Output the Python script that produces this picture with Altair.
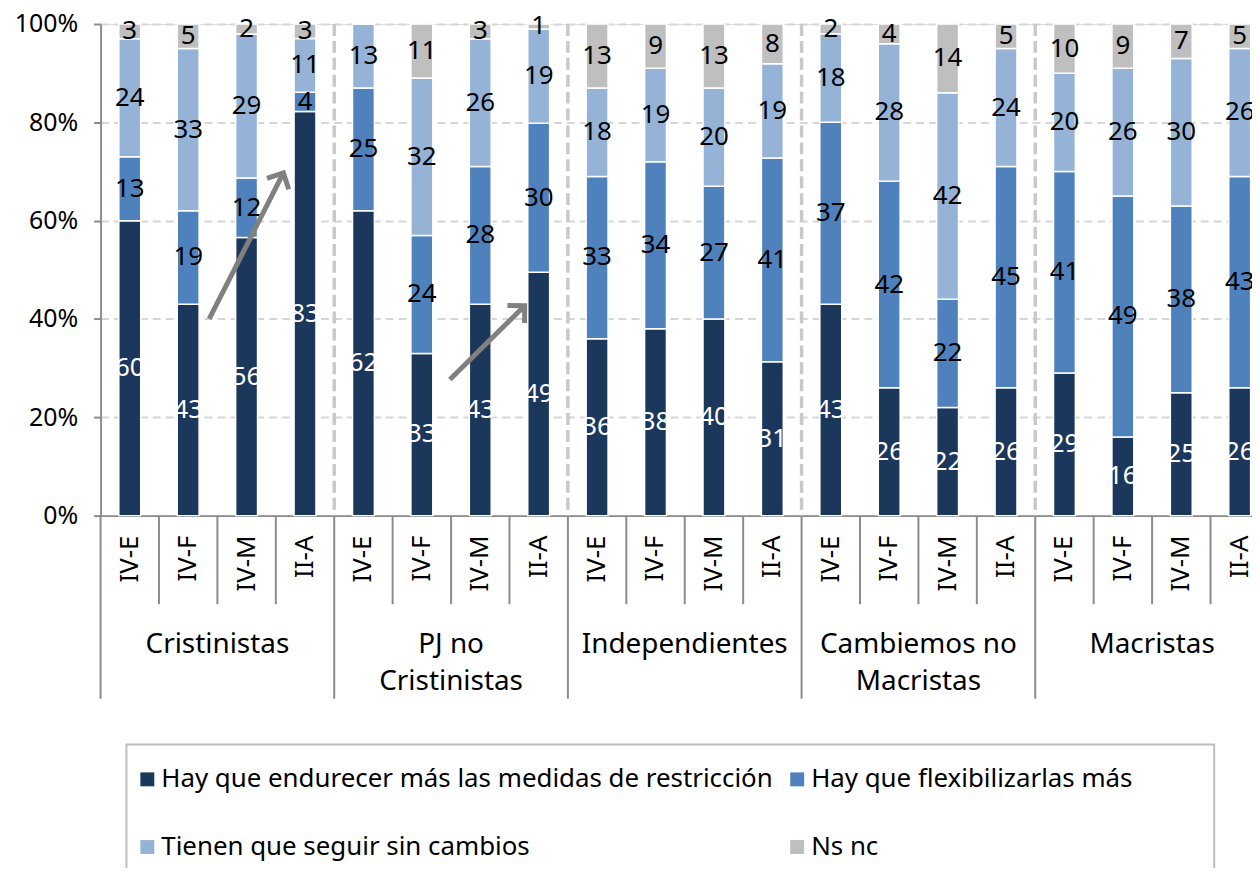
import math
import altair as alt
import pandas as pd

# ---------------- data ----------------
groups = ["Cristinistas", "PJ no\nCristinistas", "Independientes",
          "Cambiemos no\nMacristas", "Macristas"]
waves = ["IV-E", "IV-F", "IV-M", "II-A"]
series = ["Hay que endurecer más las medidas de restricción",
          "Hay que flexibilizarlas más",
          "Tienen que seguir sin cambios",
          "Ns nc"]
colors = ["#1B375C", "#4F81BD", "#95B3D7", "#BFBFBF"]

endurecer    = [60, 43, 56, 83, 62, 33, 43, 49, 36, 38, 40, 31, 43, 26, 22, 26, 29, 16, 25, 26]
flexibilizar = [13, 19, 12, 4, 25, 24, 28, 30, 33, 34, 27, 41, 37, 42, 22, 45, 41, 49, 38, 43]
sin_cambios  = [24, 33, 29, 11, 13, 32, 26, 19, 18, 19, 20, 19, 18, 28, 42, 24, 20, 26, 30, 26]
ns_nc        = [3, 5, 2, 3, 0, 11, 3, 1, 13, 9, 13, 8, 2, 4, 14, 5, 10, 9, 7, 5]

# annotation arrows (tail -> tip) in data units (bar index, share)
arrow_tail_x = [1.86, 5.98]
arrow_tail_y = [0.40, 0.277]
arrow_tip_x = [3.13, 7.26]
arrow_tip_y = [0.697, 0.427]

# ---------------- layout / style ----------------
W, H = 1157, 494
UNIT = 58.7                      # px per bar slot
XMAX = W / UNIT
FONT = "Noto Sans"
FS_AXIS = 25
FS_VAL = 26
FS_CAT = 26
FS_GRP = 28
FS_LEG = 26
AXIS_GREY = "#8C8C8C"

arrays = [endurecer, flexibilizar, sin_cambios, ns_nc]
rows = []
for gi, g in enumerate(groups):
    for wi, w in enumerate(waves):
        idx = gi * 4 + wi
        for si, s in enumerate(series):
            rows.append(dict(idx=idx, center=idx + 0.5, group=g, wave=w,
                             serie=s, order=si, value=arrays[si][idx]))
df = pd.DataFrame(rows)

cats = pd.DataFrame([dict(center=gi * 4 + wi + 0.5, wave=w)
                     for gi in range(len(groups)) for wi, w in enumerate(waves)])
bounds = pd.DataFrame([dict(b=b, kind="group" if b % 4 == 0 else "cat")
                       for b in range(0, 4 * len(groups) + 1)])
grp = pd.DataFrame([dict(center=gi * 4 + 2, label=g) for gi, g in enumerate(groups)])

arrow_rows, head_rows = [], []
for i in range(len(arrow_tail_x)):
    arrow_rows.append(dict(a=i, s=0, ax=arrow_tail_x[i], ay=arrow_tail_y[i]))
    arrow_rows.append(dict(a=i, s=1, ax=arrow_tip_x[i], ay=arrow_tip_y[i]))
    dx = (arrow_tip_x[i] - arrow_tail_x[i]) * UNIT
    dy = (arrow_tip_y[i] - arrow_tail_y[i]) * H
    ang = math.degrees(math.atan2(dx, dy)) % 360
    head_rows.append(dict(ax=arrow_tip_x[i], ay=arrow_tip_y[i], ang=ang))
arrows = pd.DataFrame(arrow_rows)
heads = pd.DataFrame(head_rows)

xs = alt.Scale(domain=[0, XMAX], nice=False, zero=False, padding=0)
ys = alt.Scale(domain=[0, 1], nice=False, padding=0)

# legend is laid out column by column: order the entries so rows read as in the source
legend_order = [series[0], series[2], series[1], series[3]]
legend_colors = [colors[0], colors[2], colors[1], colors[3]]

# ---------------- layers ----------------
base = (alt.Chart(df)
        .transform_joinaggregate(total="sum(value)", groupby=["idx"])
        .transform_window(cum="sum(value)", groupby=["idx"],
                          sort=[alt.SortField("order")], frame=[None, 0])
        .transform_calculate(y0="(datum.cum - datum.value) / datum.total",
                             y1="datum.cum / datum.total",
                             mid="(datum.cum - datum.value / 2) / datum.total"))

bars = base.mark_bar(width=22, stroke="white", strokeWidth=1.5).encode(
    x=alt.X("center:Q", scale=xs,
            axis=alt.Axis(labels=False, ticks=False, grid=False, title=None,
                          domainColor=AXIS_GREY, domainWidth=2)),
    y=alt.Y("y0:Q", scale=ys,
            axis=alt.Axis(format=".0%", values=[0, 0.2, 0.4, 0.6, 0.8, 1.0],
                          title=None, labelFont=FONT, labelFontSize=FS_AXIS,
                          labelColor="black", tickColor=AXIS_GREY, tickSize=7,
                          tickWidth=2, domainColor=AXIS_GREY, domainWidth=2,
                          labelPadding=16, grid=True, gridDash=[8, 5],
                          gridColor="#D6D6D6", gridWidth=2)),
    y2="y1:Q",
    color=alt.Color("serie:N",
                    scale=alt.Scale(domain=legend_order, range=legend_colors),
                    legend=alt.Legend(orient="none", legendX=34, legendY=746,
                                      title=None, columns=2,
                                      symbolType="square", symbolSize=196,
                                      symbolStrokeWidth=0, labelFont=FONT,
                                      labelFontSize=FS_LEG, labelColor="black",
                                      labelLimit=1000, rowPadding=42,
                                      columnPadding=11, labelOffset=1,
                                      padding=0)),
    order=alt.Order("order:Q"),
)

labels = base.transform_filter("datum.value > 0").mark_text(
    font=FONT, fontSize=FS_VAL, baseline="middle", align="center").encode(
    x=alt.X("center:Q", scale=xs),
    y=alt.Y("mid:Q", scale=ys),
    text="value:Q",
    color=alt.condition("datum.order == 0", alt.value("white"), alt.value("black")),
)

group_sep = alt.Chart(bounds).transform_filter(
    "datum.kind == 'group' && datum.b > 0").mark_rule(
    strokeDash=[12, 5], strokeWidth=3.5, color="#C9C9C9").encode(
    x=alt.X("b:Q", scale=xs), y=alt.value(0), y2=alt.value(H))

cat_rules = alt.Chart(bounds).transform_filter("datum.kind == 'cat'").mark_rule(
    strokeWidth=2, color=AXIS_GREY).encode(
    x=alt.X("b:Q", scale=xs), y=alt.value(H), y2=alt.value(H + 89))

grp_rules = alt.Chart(bounds).transform_filter("datum.kind == 'group'").mark_rule(
    strokeWidth=2, color=AXIS_GREY).encode(
    x=alt.X("b:Q", scale=xs), y=alt.value(H), y2=alt.value(H + 184))

cat_text = alt.Chart(cats).mark_text(
    font=FONT, fontSize=FS_CAT, angle=270, align="right", baseline="middle",
    color="black").encode(
    x=alt.X("center:Q", scale=xs), y=alt.value(H + 20), text="wave:N")

grp_text = alt.Chart(grp).mark_text(
    font=FONT, fontSize=FS_GRP, align="center", baseline="top", lineBreak="\n",
    lineHeight=37, color="black").encode(
    x=alt.X("center:Q", scale=xs), y=alt.value(H + 116), text="label:N")

arrow_lines = alt.Chart(arrows).mark_line(strokeWidth=5, color="#808080").encode(
    x=alt.X("ax:Q", scale=xs), y=alt.Y("ay:Q", scale=ys), detail="a:N",
    order="s:Q")

arrow_heads = alt.Chart(heads).mark_point(
    shape="M-1,1L0,0L1,1", filled=False, strokeWidth=5, size=600,
    color="#808080", opacity=1).encode(
    x=alt.X("ax:Q", scale=xs), y=alt.Y("ay:Q", scale=ys),
    angle=alt.Angle("ang:Q", scale=None))

legend_box = alt.Chart(pd.DataFrame({"k": [0]})).mark_rect(
    fillOpacity=0, stroke="#BFBFBF", strokeWidth=2).encode(
    x=alt.value(26), x2=alt.value(1119), y=alt.value(724), y2=alt.value(H + 420))

chart = alt.layer(
    group_sep, cat_rules, grp_rules, bars, labels, cat_text, grp_text,
    arrow_lines, arrow_heads, legend_box
).properties(
    width=W, height=H,
    padding={"left": 93, "top": 14, "right": 0, "bottom": 352},
    autosize=alt.AutoSizeParams(type="none"),
).configure_view(stroke=None).configure(background="white")

chart.save("out.html", embed_options={"renderer": "svg", "actions": False})
